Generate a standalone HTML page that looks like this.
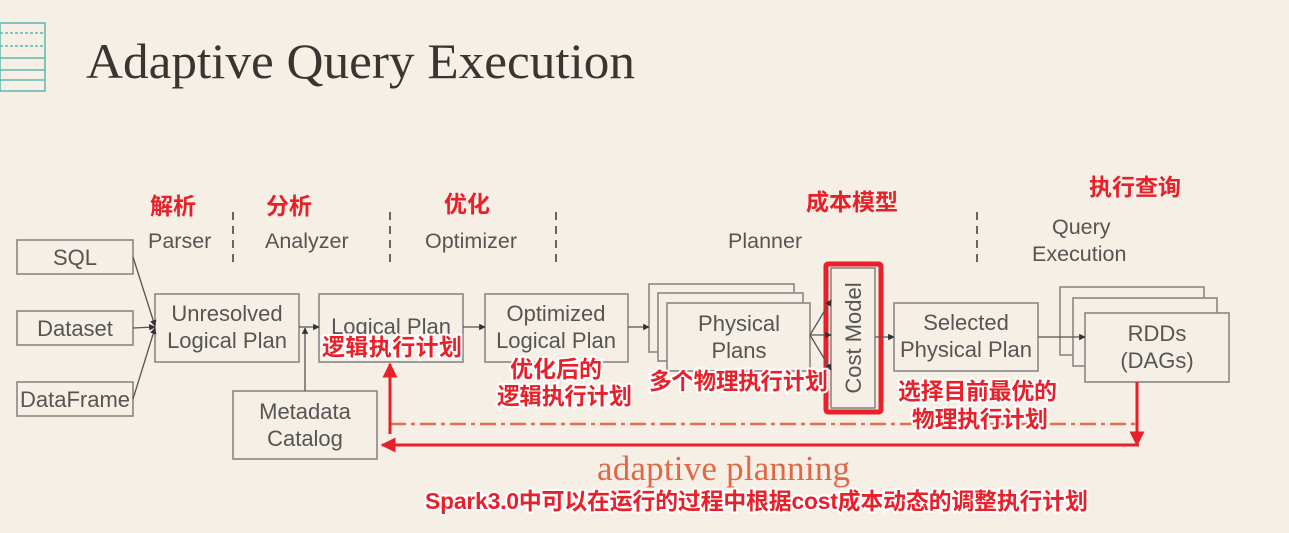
<!DOCTYPE html>
<html><head><meta charset="utf-8"><style>
html,body{margin:0;padding:0;background:#f5efe5;}
svg{display:block}
.g{font-family:"Liberation Sans",sans-serif;fill:#555;font-size:21.5px}
.b{font-family:"Liberation Sans",sans-serif;fill:#555;font-size:22px;text-anchor:middle}
.r{font-family:"Liberation Sans","Noto Sans CJK SC",sans-serif;font-weight:bold;fill:#e8202a;font-size:23px}
.rw{font-family:"Liberation Sans","Noto Sans CJK SC",sans-serif;font-weight:bold;fill:#e8202a;font-size:23px;stroke:#fff;stroke-width:4px;paint-order:stroke}
rect.bx{fill:#f5efe5;stroke:#888;stroke-width:1.6}
</style></head><body>
<svg width="1289" height="533" viewBox="0 0 1289 533" xmlns="http://www.w3.org/2000/svg">
<defs>
<marker id="a" viewBox="0 0 10 10" refX="9" refY="5" markerWidth="5" markerHeight="5" orient="auto"><path d="M0,0L10,5L0,10z" fill="#333"/></marker>
<marker id="ra" viewBox="0 0 10 10" refX="9" refY="5" markerWidth="5" markerHeight="5" orient="auto"><path d="M0,0L10,5L0,10z" fill="#e8202a"/></marker>
</defs>
<g stroke="#5fb5ad" stroke-width="1.5" fill="none">
<rect x="0" y="23" width="45" height="68"/>
<line x1="0" y1="33" x2="45" y2="33" stroke-dasharray="3,2"/>
<line x1="0" y1="46" x2="45" y2="46" stroke-dasharray="3,2"/>
<line x1="0" y1="58" x2="45" y2="58"/>
<line x1="0" y1="70" x2="45" y2="70"/>
<line x1="0" y1="80" x2="45" y2="80"/>
</g>
<text x="86" y="78" font-family="Liberation Serif,serif" font-size="50" fill="#3a3432" textLength="549" lengthAdjust="spacingAndGlyphs">Adaptive Query Execution</text>

<g stroke="#444" stroke-width="1.6" stroke-dasharray="8,6">
<line x1="233" y1="212" x2="233" y2="266"/>
<line x1="390" y1="212" x2="390" y2="266"/>
<line x1="556" y1="212" x2="556" y2="266"/>
<line x1="977" y1="212" x2="977" y2="266"/>
</g>
<text class="g" x="148" y="248">Parser</text>
<text class="g" x="265" y="248">Analyzer</text>
<text class="g" x="425" y="248">Optimizer</text>
<text class="g" x="728" y="248">Planner</text>
<text class="g" x="1052" y="234">Query</text>
<text class="g" x="1032" y="261">Execution</text>

<text class="r" x="150" y="214" font-size="27">解析</text>
<text class="r" x="266" y="214" font-size="27">分析</text>
<text class="r" x="444" y="212" font-size="27">优化</text>
<text class="r" x="806" y="210">成本模型</text>
<text class="r" x="1089" y="195">执行查询</text>

<rect class="bx" x="17" y="240" width="116" height="34"/><text class="b" x="75" y="265">SQL</text>
<rect class="bx" x="17" y="311" width="116" height="34"/><text class="b" x="75" y="336">Dataset</text>
<rect class="bx" x="17" y="382" width="116" height="34"/><text class="b" x="75" y="407">DataFrame</text>
<rect class="bx" x="155" y="294" width="144" height="68"/><text class="b" x="227" y="321">Unresolved</text><text class="b" x="227" y="348">Logical Plan</text>
<rect class="bx" x="319" y="294" width="144" height="68"/><text class="b" x="391" y="334">Logical Plan</text>
<rect class="bx" x="485" y="294" width="143" height="68"/><text class="b" x="556" y="321">Optimized</text><text class="b" x="556" y="348">Logical Plan</text>
<rect class="bx" x="233" y="391" width="144" height="68"/><text class="b" x="305" y="419">Metadata</text><text class="b" x="305" y="446">Catalog</text>

<rect class="bx" x="649" y="284" width="145" height="68"/>
<rect class="bx" x="658" y="293" width="145" height="68"/>
<rect class="bx" x="667" y="303" width="143" height="68"/>
<text class="b" x="739" y="331">Physical</text><text class="b" x="739" y="358">Plans</text>

<rect class="bx" x="831" y="268" width="44" height="140"/>
<text class="b" transform="translate(861,338) rotate(-90)">Cost Model</text>
<rect x="826" y="264" width="55" height="148" fill="none" stroke="#e8202a" stroke-width="5" rx="2"/>

<rect class="bx" x="894" y="303" width="144" height="68"/><text class="b" x="966" y="330">Selected</text><text class="b" x="966" y="357">Physical Plan</text>

<rect class="bx" x="1060" y="287" width="144" height="68"/>
<rect class="bx" x="1073" y="298" width="144" height="68"/>
<rect class="bx" x="1085" y="313" width="144" height="69"/>
<text class="b" x="1157" y="341">RDDs</text><text class="b" x="1157" y="368">(DAGs)</text>

<g stroke="#555" stroke-width="1.3" fill="none" marker-end="url(#a)">
<line x1="133" y1="257" x2="155" y2="326"/>
<line x1="133" y1="328" x2="155" y2="327"/>
<line x1="133" y1="399" x2="155" y2="328"/>
<line x1="299" y1="327" x2="319" y2="327"/>
<line x1="305" y1="391" x2="305" y2="328"/>
<line x1="463" y1="327" x2="485" y2="327"/>
<line x1="628" y1="327" x2="649" y2="327"/>
<line x1="810" y1="335" x2="831" y2="300"/>
<line x1="810" y1="335" x2="831" y2="335"/>
<line x1="810" y1="335" x2="831" y2="370"/>
<line x1="875" y1="337" x2="894" y2="337"/>
<line x1="1038" y1="337" x2="1085" y2="337"/>
</g>

<line x1="390" y1="424" x2="1137" y2="424" stroke="#e07050" stroke-width="2.5" stroke-dasharray="16,5,4,5"/>
<line x1="1137" y1="382" x2="1137" y2="445" stroke="#e8202a" stroke-width="3" marker-end="url(#ra)"/>
<line x1="1139" y1="445" x2="382" y2="445" stroke="#e8202a" stroke-width="3" marker-end="url(#ra)"/>
<line x1="390" y1="434" x2="390" y2="364" stroke="#e8202a" stroke-width="3" marker-end="url(#ra)"/>

<text class="rw" x="322" y="355" textLength="140">逻辑执行计划</text>
<text class="rw" x="510" y="377">优化后的</text>
<text class="rw" x="497" y="404" textLength="135">逻辑执行计划</text>
<text class="rw" x="649" y="389" textLength="179">多个物理执行计划</text>
<text class="rw" x="898" y="399" textLength="159">选择目前最优的</text>
<text class="rw" x="912" y="427" textLength="136">物理执行计划</text>

<text x="597" y="480" font-family="Liberation Serif,serif" font-size="35" fill="#e06848" textLength="253">adaptive planning</text>
<text class="rw" x="425" y="509" font-size="21" textLength="663">Spark3.0中可以在运行的过程中根据cost成本动态的调整执行计划</text>
</svg>
</body></html>
